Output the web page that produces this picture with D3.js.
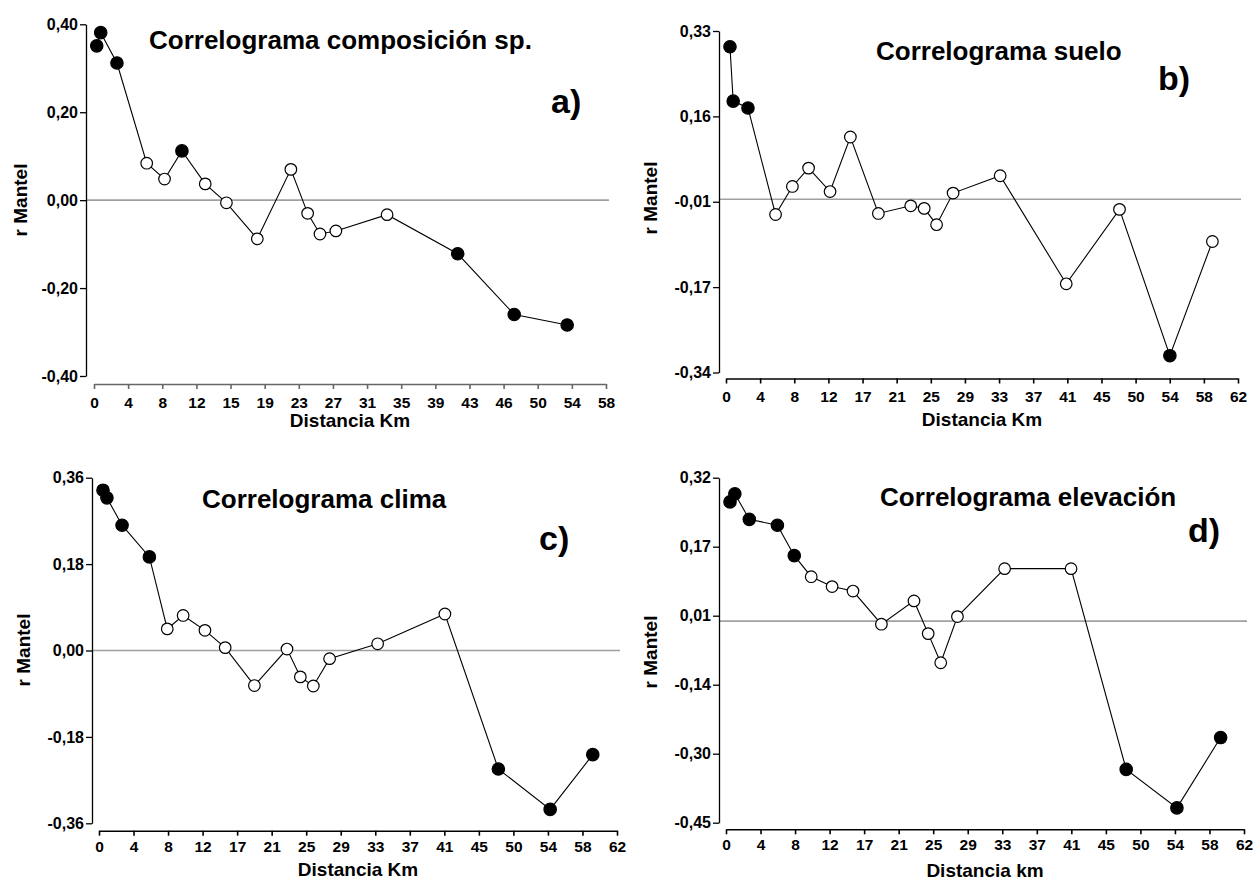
<!DOCTYPE html>
<html><head><meta charset="utf-8">
<script src="https://cdn.jsdelivr.net/npm/d3@7"></script>
<style>
body{margin:0;background:#fff;}
svg{display:block;font-family:"Liberation Sans",Arial,sans-serif;}
</style></head>
<body><svg id="chart" width="1256" height="880"></svg>
<script>
// ---- data ----
const xLabels58 = ["0","4","8","12","15","19","23","27","31","35","39","43","46","50","54","58"];
const xLabels62 = ["0","4","8","12","17","21","25","29","33","37","41","45","50","54","58","62"];

const aTitle = "Correlograma composición sp.";
const aYLabels = ["0,40","0,20","0,00","-0,20","-0,40"];
const aYDomain = [-0.40, 0.40];
const aDist = [0.31,0.76,2.6,5.97,7.99,9.96,12.6,15.0,18.5,22.3,24.2,25.6,27.4,33.2,41.2,47.6,53.6];
const aR    = [0.351,0.381,0.312,0.084,0.048,0.112,0.037,-0.006,-0.088,0.070,-0.030,-0.077,-0.070,-0.033,-0.122,-0.260,-0.284];
const aSig  = [1,1,1,0,0,1,0,0,0,0,0,0,0,0,1,1,1];

const bTitle = "Correlograma suelo";
const bYLabels = ["0,33","0,16","-0,01","-0,17","-0,34"];
const bYDomain = [-0.34, 0.33];
const bDist = [0.48,0.87,2.66,6.0,8.04,10.0,12.6,15.06,18.45,22.37,24.0,25.5,27.5,33.2,41.2,47.65,53.75,58.9];
const bR    = [0.299,0.1925,0.179,-0.030,0.025,0.061,0.015,0.122,-0.028,-0.013,-0.018,-0.050,0.012,0.046,-0.166,-0.020,-0.307,-0.083];
const bSig  = [1,1,1,0,0,0,0,0,0,0,0,0,0,0,0,0,1,0];

const cTitle = "Correlograma clima";
const cYLabels = ["0,36","0,18","0,00","-0,18","-0,36"];
const cYDomain = [-0.36, 0.36];
const cDist = [0.48,0.95,2.76,6.03,8.17,10.07,12.68,15.1,18.6,22.5,24.1,25.65,27.6,33.35,41.4,47.8,54.0,59.1];
const cR    = [0.334,0.318,0.261,0.195,0.045,0.073,0.042,0.006,-0.073,0.003,-0.055,-0.074,-0.017,0.014,0.076,-0.247,-0.331,-0.217];
const cSig  = [1,1,1,1,0,0,0,0,0,0,0,0,0,0,0,1,1,1];

const dTitle = "Correlograma elevación";
const dYLabels = ["0,32","0,17","0,01","-0,14","-0,30","-0,45"];
const dYDomain = [-0.45, 0.32];
const dDist = [0.48,1.06,2.79,6.15,8.17,10.2,12.7,15.2,18.6,22.5,24.2,25.7,27.7,33.35,41.3,47.9,53.97,59.2];
const dR    = [0.266,0.284,0.227,0.214,0.146,0.099,0.077,0.067,-0.007,0.045,-0.028,-0.093,0.010,0.117,0.117,-0.331,-0.417,-0.260];
const dSig  = [1,1,1,1,1,0,0,0,0,0,0,0,0,0,0,1,1,1];

// ---- layout ----
const panels = [
  {title:aTitle, letter:"a)", yLabels:aYLabels, yDom:aYDomain, dist:aDist, r:aR, sig:aSig, xLabels:xLabels58, xMax:58, xLabel:"Distancia Km",
   yAxisX:86, yTop:24.3, yBot:376, xAxisY:384, x0:94, x1:606, xPad:8, xAxisColor:"#666",
   titleX:149, titleY:49, letterX:551, letterY:113, yLabelX:20, yLabelY:200, xLabelY:427},
  {title:bTitle, letter:"b)", yLabels:bYLabels, yDom:bYDomain, dist:bDist, r:bR, sig:bSig, xLabels:xLabels62, xMax:62, xLabel:"Distancia Km",
   yAxisX:719, yTop:31, yBot:372.5, xAxisY:378.5, x0:726, x1:1238, xPad:7, xAxisColor:"#000",
   titleX:876, titleY:60, letterX:1158, letterY:90, yLabelX:650, yLabelY:198, xLabelY:426},
  {title:cTitle, letter:"c)", yLabels:cYLabels, yDom:cYDomain, dist:cDist, r:cR, sig:cSig, xLabels:xLabels62, xMax:62, xLabel:"Distancia Km",
   yAxisX:92, yTop:477.7, yBot:823.3, xAxisY:830.7, x0:99, x1:617, xPad:5, xAxisColor:"#000",
   titleX:202, titleY:508, letterX:539, letterY:550, yLabelX:23, yLabelY:650, xLabelY:876},
  {title:dTitle, letter:"d)", yLabels:dYLabels, yDom:dYDomain, dist:dDist, r:dR, sig:dSig, xLabels:xLabels62, xMax:62, xLabel:"Distancia km",
   yAxisX:719, yTop:477.7, yBot:822.7, xAxisY:829.3, x0:726, x1:1244, xPad:5, xAxisColor:"#000",
   titleX:880, titleY:506, letterX:1188, letterY:542, yLabelX:650, yLabelY:652, xLabelY:877}
];

const svg = d3.select("#chart");

panels.forEach(p => {
  const g = svg.append("g");
  const x = d3.scaleLinear().domain([0, p.xMax]).range([p.x0, p.x1]);
  const y = d3.scaleLinear().domain(p.yDom).range([p.yBot, p.yTop]);
  const nY = p.yLabels.length - 1;
  const yVals = d3.range(nY + 1).map(i => p.yDom[1] - i * (p.yDom[1] - p.yDom[0]) / nY);
  const xVals = d3.range(16).map(i => i * p.xMax / 15);

  // zero reference line
  g.append("line")
    .attr("x1", p.yAxisX).attr("x2", p.x1 + 3)
    .attr("y1", y(0)).attr("y2", y(0))
    .attr("stroke", "#a0a0a0").attr("stroke-width", 1.6);

  // y axis
  const ya = g.append("g").attr("transform", `translate(${p.yAxisX},0)`)
    .call(d3.axisLeft(y).tickValues(yVals).tickFormat((d, i) => p.yLabels[i]).tickSize(6).tickSizeOuter(0).tickPadding(2));
  ya.selectAll("path,line").attr("stroke", "#000").attr("stroke-width", 1.3);
  ya.selectAll("text").attr("font-size", 16).attr("font-weight", "bold").attr("fill", "#000")
    .attr("font-family", "Liberation Sans, Arial, sans-serif");

  // x axis
  const xa = g.append("g").attr("transform", `translate(0,${p.xAxisY})`)
    .call(d3.axisBottom(x).tickValues(xVals).tickFormat((d, i) => p.xLabels[i]).tickSize(5).tickSizeOuter(0).tickPadding(p.xPad));
  xa.selectAll("path,line").attr("stroke", p.xAxisColor).attr("stroke-width", 1.6);
  xa.selectAll("text").attr("font-size", 15.5).attr("font-weight", "bold").attr("fill", "#000")
    .attr("font-family", "Liberation Sans, Arial, sans-serif");

  // line
  const pts = p.dist.map((d, i) => ({x: d, r: p.r[i], s: p.sig[i]}));
  g.append("path").datum(pts)
    .attr("fill", "none").attr("stroke", "#000").attr("stroke-width", 1.1)
    .attr("d", d3.line().x(d => x(d.x)).y(d => y(d.r)));

  // markers
  g.selectAll("circle.pt").data(pts).enter().append("circle")
    .attr("class", "pt")
    .attr("cx", d => x(d.x)).attr("cy", d => y(d.r))
    .attr("r", d => d.s ? 6.2 : 5.8)
    .attr("fill", d => d.s ? "#000" : "#fff")
    .attr("stroke", "#000").attr("stroke-width", 1.2);

  // texts
  g.append("text").attr("x", p.titleX).attr("y", p.titleY)
    .attr("font-size", 26).attr("font-weight", "bold").text(p.title);
  g.append("text").attr("x", p.letterX).attr("y", p.letterY)
    .attr("font-size", 34).attr("font-weight", "bold").text(p.letter);
  g.append("text").attr("transform", `translate(${p.yLabelX},${p.yLabelY}) rotate(-90)`)
    .attr("text-anchor", "middle").attr("dominant-baseline", "central")
    .attr("font-size", 19).attr("font-weight", "bold").text("r Mantel");
  g.append("text").attr("x", (p.x0 + p.x1) / 2).attr("y", p.xLabelY)
    .attr("text-anchor", "middle")
    .attr("font-size", 19).attr("font-weight", "bold").text(p.xLabel);
});
</script>
</body></html>
